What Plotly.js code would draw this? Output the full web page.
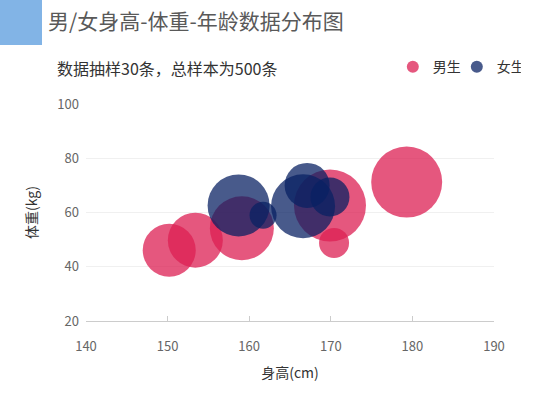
<!DOCTYPE html>
<html>
<head>
<meta charset="utf-8">
<script src="https://cdn.plot.ly/plotly-3.0.1.min.js"></script>
<style>
html,body{margin:0;padding:0;background:#fff;}
#chart{width:553px;height:397px;}
</style>
</head>
<body>
<div id="chart"></div>
<script>
// ---- data ----
var seriesNames = ['男生', '女生'];
var maleHeight = [150.2, 153.4, 159.1, 170.4, 169.9, 179.3];
var maleWeight = [46.1, 49.8, 54.2, 48.8, 62.6, 71.2];
var maleAge    = [26.5, 27.5, 32, 15, 36, 35.5];
var femaleHeight = [158.7, 161.7, 166.6, 167.1, 169.9];
var femaleWeight = [62.6, 59, 62.3, 70, 65.7];
var femaleAge    = [31, 13.5, 32, 22.5, 19.5];
var xTicks = [140, 150, 160, 170, 180, 190];
var yTicks = [20, 40, 60, 80, 100];

var FONT = '"Noto Sans CJK SC", "Noto Sans", sans-serif';

var traces = [
  {
    type: 'scatter', mode: 'markers', name: seriesNames[0],
    x: maleHeight, y: maleWeight,
    marker: {size: maleAge, sizemode: 'diameter', sizeref: 0.5, opacity: 1,
             color: 'rgba(220,31,83,0.75)', line: {width: 0}},
    hoverinfo: 'x+y'
  },
  {
    type: 'scatter', mode: 'markers', name: seriesNames[1],
    x: femaleHeight, y: femaleWeight,
    marker: {size: femaleAge, sizemode: 'diameter', sizeref: 0.5, opacity: 1,
             color: 'rgba(8,32,98,0.74)', line: {width: 0}},
    hoverinfo: 'x+y'
  }
];

var layout = {
  width: 553, height: 397,
  margin: {l: 86, r: 59, t: 104, b: 76, autoexpand: false},
  paper_bgcolor: '#fff', plot_bgcolor: '#fff',
  font: {family: FONT, color: '#666', size: 13},
  title: {
    text: '男/女身高-体重-年龄数据分布图',
    font: {family: FONT, size: 21, color: '#595959'},
    x: 48/553, xanchor: 'left', xref: 'container',
    y: 1 - 22/397, yanchor: 'middle', yref: 'container'
  },
  showlegend: true,
  legend: {
    orientation: 'h', x: 0.752, xanchor: 'left', y: 1.17, yanchor: 'middle',
    font: {family: FONT, size: 14, color: '#333'},
    itemsizing: 'constant', itemwidth: 30, tracegroupgap: 0,
    entrywidth: 19, entrywidthmode: 'pixels',
    bgcolor: 'rgba(0,0,0,0)'
  },
  xaxis: {
    range: [140, 190], tickvals: xTicks, ticktext: xTicks.map(String),
    showgrid: false, zeroline: false,
    showline: true, linecolor: '#ccc', linewidth: 1,
    ticks: 'inside', ticklen: 5, tickcolor: '#ccc',
    tickfont: {family: FONT, size: 13, color: '#666'},
    ticklabelstandoff: 13,
    title: {text: '身高(cm)', font: {family: FONT, size: 14, color: '#333'}, standoff: 14}
  },
  yaxis: {
    range: [20, 100], tickvals: yTicks, ticktext: yTicks.map(String),
    showgrid: true, gridcolor: '#f0f0f0', zeroline: false, showline: false,
    ticks: '', tickfont: {family: FONT, size: 13, color: '#666'},
    ticklabelstandoff: 6,
    title: {text: '体重(kg)', font: {family: FONT, size: 14, color: '#333'}, standoff: 16}
  },
  shapes: [{
    type: 'rect', xref: 'paper', yref: 'paper',
    x0: -86/408, x1: -44/408, y0: (321-45)/217, y1: 321/217,
    fillcolor: '#82b4e6', line: {width: 0}, layer: 'above'
  }],
  annotations: [{
    text: '数据抽样30条，总样本为500条',
    xref: 'paper', yref: 'paper',
    x: -31/408, xanchor: 'left', y: (321-68)/217, yanchor: 'middle',
    showarrow: false, font: {family: FONT, size: 16, color: '#333'}
  }]
};

Plotly.newPlot('chart', traces, layout, {displayModeBar: false, staticPlot: true});
</script>
</body>
</html>
